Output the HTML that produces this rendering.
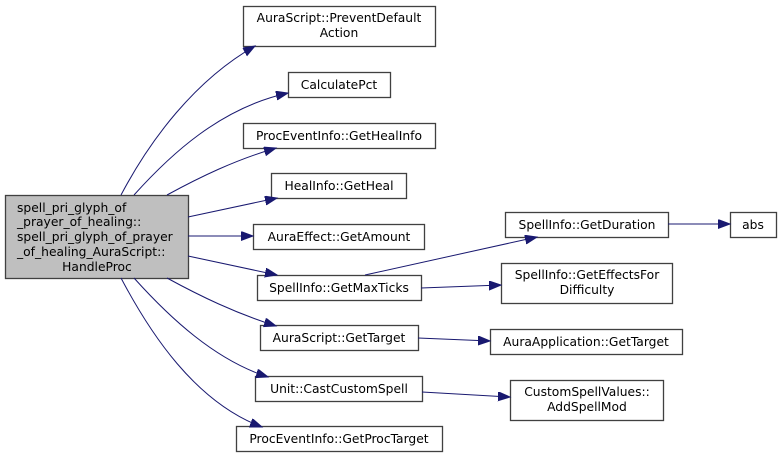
<!DOCTYPE html>
<html><head><meta charset="utf-8"><style>
html,body{margin:0;padding:0;background:#fff;}
svg{display:block;}
text{font-family:"DejaVu Sans","Liberation Sans",sans-serif;font-size:12.3px;fill:#000;text-anchor:middle;}
rect{stroke:#404040;stroke-width:1.3;fill:#fff;}
path{fill:none;stroke:#191970;stroke-width:1;}
</style></head><body>
<svg width="781" height="458" viewBox="0 0 781 458" xmlns="http://www.w3.org/2000/svg">
<defs>
<marker id="a" markerUnits="userSpaceOnUse" markerWidth="14" markerHeight="10" refX="12" refY="4.5" orient="auto">
<polygon points="0,0 12,4.5 0,9" fill="#191970" stroke="#191970"/>
</marker>
</defs>
<rect x="5.5" y="195.5" width="183" height="83" style="fill:#bfbfbf"/>
<text x="17" y="212" style="text-anchor:start">spell_pri_glyph_of</text>
<text x="17" y="226" style="text-anchor:start">_prayer_of_healing::</text>
<text x="17" y="241" style="text-anchor:start">spell_pri_glyph_of_prayer</text>
<text x="17" y="256" style="text-anchor:start">_of_healing_AuraScript::</text>
<text x="97" y="271">HandleProc</text>

<rect x="243.5" y="6.5" width="192" height="40"/>
<text x="339" y="22">AuraScript::PreventDefault</text>
<text x="339" y="37">Action</text>
<rect x="288.5" y="72.5" width="102" height="25"/>
<text x="339" y="89">CalculatePct</text>
<rect x="243.5" y="123.5" width="192" height="25"/>
<text x="339" y="140">ProcEventInfo::GetHealInfo</text>
<rect x="271.5" y="173.5" width="135" height="25"/>
<text x="339" y="190">HealInfo::GetHeal</text>
<rect x="253.5" y="224.5" width="171" height="25"/>
<text x="339" y="241">AuraEffect::GetAmount</text>
<rect x="257.5" y="275.5" width="164" height="25"/>
<text x="339" y="292">SpellInfo::GetMaxTicks</text>
<rect x="260.5" y="325.5" width="158" height="25"/>
<text x="339" y="342">AuraScript::GetTarget</text>
<rect x="255.5" y="376.5" width="167" height="25"/>
<text x="339" y="393">Unit::CastCustomSpell</text>
<rect x="236.5" y="426.5" width="206" height="25"/>
<text x="339" y="443">ProcEventInfo::GetProcTarget</text>

<rect x="505.5" y="212.5" width="163" height="25"/>
<text x="587" y="229">SpellInfo::GetDuration</text>
<rect x="730.5" y="212.5" width="46" height="25"/>
<text x="753" y="229">abs</text>
<rect x="501.5" y="263.5" width="171" height="40"/>
<text x="587" y="279">SpellInfo::GetEffectsFor</text>
<text x="587" y="294">Difficulty</text>
<rect x="490.5" y="329.5" width="192" height="25"/>
<text x="586" y="346">AuraApplication::GetTarget</text>
<rect x="510.5" y="380.5" width="153" height="40"/>
<text x="587" y="396">CustomSpellValues::</text>
<text x="587" y="411">AddSpellMod</text>

<path marker-end="url(#a)" d="M121,195 C150,140 195,80 255,46"/>
<path marker-end="url(#a)" d="M134,195 C170,155 220,108 288,93"/>
<path marker-end="url(#a)" d="M167,195 C200,177 235,160 276,148"/>
<path marker-end="url(#a)" d="M188,217 L277,198"/>
<path marker-end="url(#a)" d="M188,236 L253,236"/>
<path marker-end="url(#a)" d="M188,256 L277,275"/>
<path marker-end="url(#a)" d="M167,278 C200,296 235,313 276,326"/>
<path marker-end="url(#a)" d="M134,278 C170,318 215,360 268,377"/>
<path marker-end="url(#a)" d="M121,278 C150,333 195,402 262,427"/>
<path marker-end="url(#a)" d="M365,275 L537,237"/>
<path marker-end="url(#a)" d="M421,288 L501,285"/>
<path marker-end="url(#a)" d="M418,338 L490,341"/>
<path marker-end="url(#a)" d="M422,392 L510,397"/>
<path marker-end="url(#a)" d="M668,224 L730,224"/>
</svg>
</body></html>
